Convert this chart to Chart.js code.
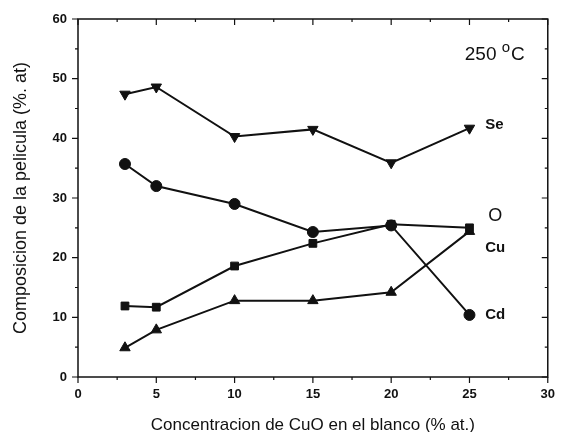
<!DOCTYPE html>
<html>
<head>
<meta charset="utf-8">
<script src="https://cdn.jsdelivr.net/npm/chart.js@4.4.0/dist/chart.umd.min.js"></script>
<style>
  html, body { margin: 0; padding: 0; background: #fff; }
  #wrap { width: 565px; height: 432px; }
</style>
</head>
<body>
<div id="wrap"><canvas id="grafico" width="565" height="432"></canvas></div>
<script>
// Datos
const concentracion = [3, 5, 10, 15, 20, 25];
const se = [47.4, 48.6, 40.3, 41.5, 35.9, 41.7];
const cd = [35.7, 32.0, 29.0, 24.3, 25.4, 10.4];
const cu = [11.9, 11.7, 18.6, 22.4, 25.6, 25.0];
const o = [4.9, 7.9, 12.8, 12.8, 14.2, 24.4];

const xTicks = [0, 5, 10, 15, 20, 25, 30];
const yTicks = [0, 10, 20, 30, 40, 50, 60];

// etiquetas dentro del grafico (coordenadas de datos)
const etiquetas = [
  { text: 'Se', x: 26.0, y: 42.3 },
  { text: 'O', x: 26.2, y: 27.0 },
  { text: 'Cu', x: 26.0, y: 21.6 },
  { text: 'Cd', x: 26.0, y: 10.4 }
];

const FONT = '"Liberation Sans", Arial, sans-serif';

const puntos = (xs, ys) => xs.map((x, i) => ({ x: x, y: ys[i] }));

// marco y marcas de los ejes (mayores y menores) en los cuatro lados
const marcoPlugin = {
  id: 'marco',
  afterDraw(chart) {
    const { ctx, chartArea: a, scales } = chart;
    ctx.save();
    ctx.strokeStyle = '#111';
    ctx.lineWidth = 1.5;
    ctx.strokeRect(a.left, a.top, a.right - a.left, a.bottom - a.top);
    ctx.lineWidth = 1.2;
    ctx.beginPath();
    for (let v = 0; v <= 30; v += 2.5) {
      const px = scales.x.getPixelForValue(v);
      const major = v % 5 === 0;
      const len = major ? 6 : 3;
      ctx.moveTo(px, a.bottom); ctx.lineTo(px, a.bottom + len);
      ctx.moveTo(px, a.top); ctx.lineTo(px, a.top + len);
    }
    for (let v = 0; v <= 60; v += 5) {
      const py = scales.y.getPixelForValue(v);
      const major = v % 10 === 0;
      const len = major ? 6 : 3;
      ctx.moveTo(a.left, py); ctx.lineTo(a.left - len, py);
      ctx.moveTo(a.right, py); ctx.lineTo(a.right - len, py);
    }
    ctx.stroke();

    // etiquetas de las series
    ctx.fillStyle = '#111';
    ctx.textBaseline = 'middle';
    ctx.textAlign = 'left';
    etiquetas.forEach(e => {
      ctx.font = e.text === 'O' ? '18px ' + FONT : 'bold 15px ' + FONT;
      ctx.fillText(e.text, scales.x.getPixelForValue(e.x), scales.y.getPixelForValue(e.y));
    });

    // temperatura
    const tx = scales.x.getPixelForValue(24.7);
    const ty = scales.y.getPixelForValue(54.0);
    ctx.font = '19px ' + FONT;
    ctx.fillText('250', tx, ty);
    let w = ctx.measureText('250 ').width;
    ctx.font = '15px ' + FONT;
    ctx.fillText('o', tx + w, ty - 7);
    w += ctx.measureText('o').width;
    ctx.font = '19px ' + FONT;
    ctx.fillText('C', tx + w + 1, ty);
    ctx.restore();
  }
};

const serie = (label, data, style, rot, radius) => ({
  label: label,
  data: puntos(concentracion, data),
  borderColor: '#111',
  backgroundColor: '#111',
  borderWidth: 2,
  pointStyle: style,
  rotation: rot,
  pointRadius: radius,
  pointHoverRadius: radius,
  pointBackgroundColor: '#111',
  pointBorderColor: '#111',
  pointBorderWidth: 1,
  tension: 0
});

new Chart(document.getElementById('grafico'), {
  type: 'line',
  data: {
    datasets: [
      serie('Se', se, 'triangle', 180, 6),
      serie('Cd', cd, 'circle', 0, 5.5),
      serie('Cu', cu, 'rect', 0, 5.5),
      serie('O', o, 'triangle', 0, 6)
    ]
  },
  options: {
    responsive: false,
    animation: false,
    layout: { padding: { left: 0, right: 9, top: 19, bottom: 0 } },
    plugins: {
      legend: { display: false },
      tooltip: { enabled: false }
    },
    scales: {
      x: {
        type: 'linear',
        min: 0,
        max: 30,
        afterBuildTicks: s => { s.ticks = xTicks.map(v => ({ value: v })); },
        afterFit: s => { s.height = 55; },
        grid: { display: false, drawTicks: false },
        border: { display: false },
        ticks: {
          color: '#111',
          padding: 10,
          font: { family: FONT, size: 13, weight: 'bold' }
        },
        title: {
          display: true,
          text: 'Concentracion de CuO en el blanco (% at.)',
          color: '#111',
          font: { family: FONT, size: 17 },
          padding: { top: 4, bottom: -4 }
        }
      },
      y: {
        type: 'linear',
        min: 0,
        max: 60,
        afterBuildTicks: s => { s.ticks = yTicks.map(v => ({ value: v })); },
        afterFit: s => { s.width = 78; },
        grid: { display: false, drawTicks: false },
        border: { display: false },
        ticks: {
          color: '#111',
          padding: 11,
          font: { family: FONT, size: 13, weight: 'bold' }
        },
        title: {
          display: true,
          text: 'Composicion de la pelicula (%. at)',
          color: '#111',
          font: { family: FONT, size: 18 },
          padding: { top: 10, bottom: 4 }
        }
      }
    }
  },
  plugins: [marcoPlugin]
});
</script>
</body>
</html>
